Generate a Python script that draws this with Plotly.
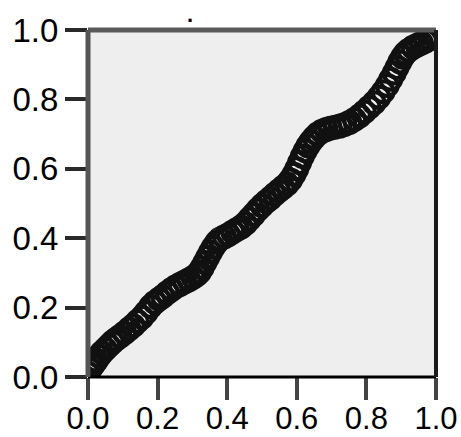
import plotly.graph_objects as go

obs_prob = [0.000, 0.006, 0.012, 0.018, 0.024, 0.032, 0.040, 0.050, 0.060, 0.070,
            0.080, 0.092, 0.105, 0.118, 0.130, 0.142, 0.155, 0.167, 0.180, 0.192,
            0.204, 0.215, 0.228, 0.240, 0.252, 0.265, 0.278, 0.290, 0.302, 0.312,
            0.320, 0.328, 0.336, 0.344, 0.352, 0.360, 0.370, 0.380, 0.392, 0.404,
            0.416, 0.428, 0.440, 0.452, 0.464, 0.476, 0.488, 0.500, 0.512, 0.524,
            0.536, 0.548, 0.560, 0.572, 0.582, 0.592, 0.600, 0.608, 0.616, 0.624,
            0.632, 0.640, 0.650, 0.660, 0.672, 0.684, 0.696, 0.710, 0.724, 0.738,
            0.752, 0.766, 0.780, 0.794, 0.808, 0.822, 0.836, 0.848, 0.860, 0.870,
            0.880, 0.888, 0.896, 0.904, 0.912, 0.922, 0.934, 0.946, 0.958, 0.970,
            0.982, 0.994, 1.000]
exp_prob = [0.010, 0.022, 0.032, 0.040, 0.048, 0.060, 0.070, 0.080, 0.090, 0.100,
            0.108, 0.117, 0.127, 0.138, 0.148, 0.160, 0.172, 0.186, 0.203, 0.215,
            0.224, 0.232, 0.243, 0.252, 0.260, 0.267, 0.274, 0.280, 0.287, 0.294,
            0.302, 0.315, 0.330, 0.345, 0.360, 0.374, 0.388, 0.398, 0.404, 0.410,
            0.418, 0.425, 0.432, 0.442, 0.455, 0.468, 0.482, 0.494, 0.505, 0.515,
            0.526, 0.536, 0.546, 0.556, 0.568, 0.584, 0.600, 0.618, 0.636, 0.652,
            0.666, 0.678, 0.690, 0.700, 0.708, 0.713, 0.717, 0.720, 0.723, 0.728,
            0.734, 0.742, 0.752, 0.764, 0.777, 0.790, 0.806, 0.822, 0.840, 0.858,
            0.876, 0.892, 0.908, 0.922, 0.933, 0.942, 0.950, 0.956, 0.962, 0.968,
            0.975, 0.982, 0.988]

tick_vals = [0.0, 0.2, 0.4, 0.6, 0.8, 1.0]
tick_text = ["0.0", "0.2", "0.4", "0.6", "0.8", "1.0"]
title_text = "."

fig = go.Figure()
fig.add_trace(go.Scatter(
    x=obs_prob, y=exp_prob, mode="markers",
    marker=dict(symbol="circle-open", size=21, color="#111111",
                line=dict(width=4, color="#111111")),
    showlegend=False, hoverinfo="skip"))

xfont = dict(family="Liberation Sans, Arial, sans-serif", size=31, color="black")
yfont = dict(family="Liberation Sans, Arial, sans-serif", size=33, color="black")

fig.update_layout(
    width=461, height=437,
    margin=dict(l=88, r=25, t=30, b=60),
    paper_bgcolor="white", plot_bgcolor="#eeeeee",
    xaxis=dict(range=[0, 1], tickvals=tick_vals, ticktext=tick_text,
               showgrid=False, zeroline=False, ticks="outside", ticklen=22,
               tickwidth=4, tickcolor="#444444", tickfont=xfont,
               ticklabelstandoff=-8,
               showline=False, fixedrange=True, automargin=False),
    yaxis=dict(range=[0, 1], tickvals=tick_vals, ticktext=tick_text,
               showgrid=False, zeroline=False, ticks="outside", ticklen=22,
               tickwidth=4, tickcolor="#2a2a2a", tickfont=yfont,
               showline=False, fixedrange=True, automargin=False),
    shapes=[
        dict(type="line", xref="paper", yref="paper", x0=0, x1=1, y0=0, y1=0,
             line=dict(color="black", width=3), layer="above"),
        dict(type="line", xref="paper", yref="paper", x0=0, x1=1, y0=1, y1=1,
             line=dict(color="#5a5a5a", width=5), layer="above"),
        dict(type="line", xref="paper", yref="paper", x0=0, x1=0, y0=0, y1=1,
             line=dict(color="#555555", width=5), layer="above"),
        dict(type="line", xref="paper", yref="paper", x0=1, x1=1, y0=0, y1=1,
             line=dict(color="#1a1a1a", width=4), layer="above"),
    ],
    annotations=[dict(text="<b>" + title_text + "</b>", xref="paper", yref="paper",
                      x=0.293, y=1.0865, xanchor="center", yanchor="top",
                      showarrow=False,
                      font=dict(family="Liberation Sans, Arial, sans-serif",
                                size=22, color="black"))],
)

fig.write_html("out.html")
